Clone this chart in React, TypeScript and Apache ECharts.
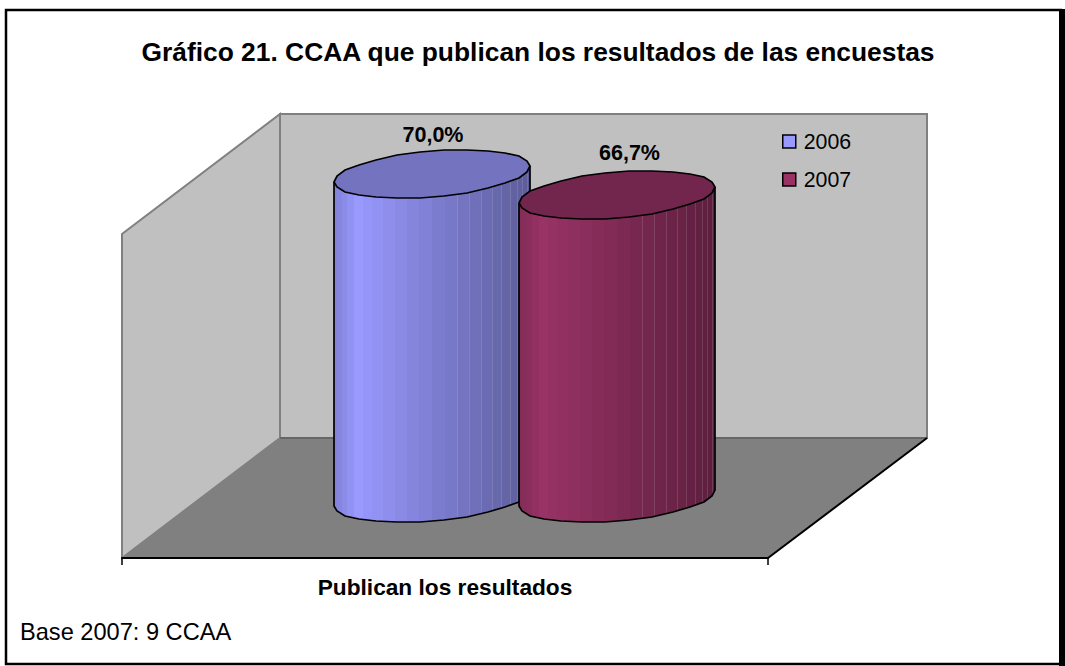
import React, { useEffect, useRef } from "react";
import * as echarts from "echarts";

const TITLE = "Gráfico 21. CCAA que publican los resultados de las encuestas";
const NOTE = "Base 2007: 9 CCAA";
const categories = ["Publican los resultados"];
const years = ["2006", "2007"];
const values2006 = [70.0];
const values2007 = [66.7];
const baseRgb = [[153, 153, 255], [153, 51, 102]];
const fmt = (v: number) => v.toFixed(1).replace(".", ",") + "%";

const FONT = "'Liberation Sans', Arial, sans-serif";
const AXIS_MIN = 10;
const AXIS_MAX = 70;
// oblique projection of the chart box
const DEPTH_X = 158;
const DEPTH_Y = 120;
const L = 122, R = 768, B = 558, WALL_TOP = 114;

const RX = 92.6;
const RD = 40;
const DX = 0.797, DY = 0.606;
const OUTLINE_FACETS = 26;
const STRIPS = 24;
const T0 = Math.atan2(RD * DX, RX);

function ell(cx: number, cy: number, t: number): [number, number] {
  return [cx + RX * Math.cos(t) + RD * DX * Math.sin(t), cy - RD * DY * Math.sin(t)];
}
function shade(u: number) {
  if (u < 0.12) return 0.84 + (u / 0.12) * 0.16;
  return 1 - ((u - 0.12) / 0.88) * 0.4;
}
function mul(rgb: number[], k: number) {
  return `rgb(${rgb.map((c) => Math.round(c * k)).join(",")})`;
}
function yOn(pts: number[][], x: number) {
  for (let i = 0; i < pts.length - 1; i++) {
    const a = pts[i], b = pts[i + 1];
    if (x <= b[0]) {
      const w = b[0] - a[0];
      return w === 0 ? a[1] : a[1] + ((x - a[0]) / w) * (b[1] - a[1]);
    }
  }
  return pts[pts.length - 1][1];
}

function cylinder(seriesIndex: number, labelDx: number, labelDy: number, offset: number) {
  return (params: any, api: any) => {
    const top = api.coord([api.value(0), api.value(1)]);
    const base = api.coord([api.value(0), AXIS_MIN]);
    const cx = Math.round(base[0] + DEPTH_X / 2 + 0.25 + offset);
    const cyBase = Math.round(base[1] - 60);
    const cyTop = Math.round(top[1]);
    const rgb = baseRgb[seriesIndex];
    const children: any[] = [];
    const round = (p: [number, number]) => [Math.round(p[0]), Math.round(p[1])];
    const halfW = Math.hypot(RX, RD * DX);

    // faceted front edge of the base, left to right
    const m = OUTLINE_FACETS / 2;
    const frontBase: number[][] = [];
    for (let i = 0; i <= m; i++) frontBase.push(round(ell(cx, cyBase, T0 - Math.PI + (i / m) * Math.PI)));
    const lift = cyBase - cyTop;

    // vertical shaded strips
    const xs: number[] = [];
    for (let i = 0; i <= STRIPS; i++) {
      xs.push(Math.round(cx - halfW * Math.cos((i / STRIPS) * Math.PI)));
    }
    for (let i = 0; i < STRIPS; i++) {
      const a = xs[i], b = xs[i + 1];
      if (b <= a) continue;
      const u = ((a + b) / 2 - (cx - halfW)) / (2 * halfW);
      const ya = yOn(frontBase, a), yb = yOn(frontBase, b);
      children.push({
        type: "polygon",
        shape: { points: [[a, ya - lift], [b, yb - lift], [b, yb], [a, ya]] },
        style: { fill: mul(rgb, shade(u)), stroke: null },
      });
      if (a > cx + 20) {
        children.push({
          type: "line",
          shape: { x1: a + 0.5, y1: ya - lift, x2: a + 0.5, y2: ya },
          style: { stroke: "rgba(255,255,255,0.13)", lineWidth: 1 },
        });
      }
    }
    const outline = [
      [frontBase[0][0], frontBase[0][1] - lift],
      ...frontBase,
      [frontBase[m][0], frontBase[m][1] - lift],
    ];
    children.push({
      type: "polyline",
      shape: { points: outline },
      style: { fill: null, stroke: "#000", lineWidth: 1.7 },
    });
    const topPts: number[][] = [];
    for (let i = 0; i < OUTLINE_FACETS; i++) {
      topPts.push(round(ell(cx, cyTop, T0 + (i / OUTLINE_FACETS) * 2 * Math.PI)));
    }
    children.push({
      type: "polygon",
      shape: { points: topPts },
      style: { fill: mul(rgb, 0.75), stroke: "#000", lineWidth: 1.7 },
    });
    children.push({
      type: "text",
      style: {
        text: fmt(api.value(1)),
        x: cx + labelDx,
        y: cyTop - labelDy,
        align: "center",
        verticalAlign: "middle",
        fill: "#000",
        font: `bold 21.5px ${FONT}`,
      },
    });
    return { type: "group", children };
  };
}

export default function App() {
  const ref = useRef<HTMLDivElement>(null);
  useEffect(() => {
    document.body.style.margin = "0";
    document.body.style.background = "#fff";
    const chart = echarts.init(ref.current!, null, { renderer: "svg" });
    const backX = L + DEPTH_X, backB = B - DEPTH_Y;
    chart.setOption({
      animation: false,
      backgroundColor: "#fff",
      title: {
        text: TITLE,
        left: 533,
        top: 34,
        textAlign: "center",
        textStyle: { fontFamily: FONT, fontWeight: "bold", fontSize: 26.36, color: "#000" },
      },
      legend: {
        orient: "vertical",
        left: 782,
        top: 131,
        padding: 0,
        itemWidth: 13,
        itemHeight: 13,
        itemGap: 17,
        icon: "rect",
        data: years.map((y, i) => ({
          name: y,
          itemStyle: { color: mul(baseRgb[i], 1), borderColor: "#000", borderWidth: 1.5 },
        })),
        textStyle: { fontFamily: FONT, fontSize: 21.3, color: "#000", padding: [0, 0, 0, 3] },
        selectedMode: false,
      },
      grid: { left: L, width: R - L, top: 174, height: B - 174 },
      xAxis: {
        type: "category",
        data: categories,
        z: 3,
        axisLine: { lineStyle: { color: "#000", width: 2 } },
        axisTick: { show: true, length: 7, lineStyle: { color: "#000", width: 1.5 } },
        axisLabel: {
          fontFamily: FONT,
          fontWeight: "bold",
          fontSize: 22.7,
          color: "#000",
          margin: 17,
        },
      },
      yAxis: { type: "value", min: AXIS_MIN, max: AXIS_MAX, show: false },
      graphic: [
        {
          type: "polygon",
          silent: true,
          shape: { points: [[L, B], [L, B - DEPTH_Y - 204], [backX, WALL_TOP], [backX, backB]] },
          style: { fill: "#C0C0C0", stroke: "#808080", lineWidth: 2 },
        },
        {
          type: "polygon",
          silent: true,
          shape: { points: [[backX, WALL_TOP], [R + DEPTH_X + 1, WALL_TOP], [R + DEPTH_X + 1, backB], [backX, backB]] },
          style: { fill: "#C0C0C0", stroke: "#808080", lineWidth: 2 },
        },
        {
          type: "polygon",
          silent: true,
          shape: { points: [[L, B], [backX, backB], [R + DEPTH_X + 1, backB], [R, B]] },
          style: { fill: "#808080", stroke: "#808080", lineWidth: 1 },
        },
        {
          type: "line",
          silent: true,
          shape: { x1: backX, y1: backB, x2: R + DEPTH_X + 1, y2: backB },
          style: { stroke: "#666", lineWidth: 2 },
        },
        {
          type: "line",
          silent: true,
          shape: { x1: R, y1: B, x2: R + DEPTH_X + 1, y2: backB },
          style: { stroke: "#000", lineWidth: 2 },
        },
        {
          type: "rect",
          silent: true,
          shape: { x: 6, y: 10, width: 1055, height: 654 },
          style: { fill: null, stroke: "#000", lineWidth: 2.5 },
        },
        {
          type: "rect",
          silent: true,
          shape: { x: 1059, y: 9, width: 6, height: 657 },
          style: { fill: "#000", stroke: null },
        },
        {
          type: "text",
          silent: true,
          style: { text: NOTE, x: 20, y: 632, verticalAlign: "middle", fill: "#000", font: `23.6px ${FONT}` },
        },
      ],
      series: [
        {
          type: "custom",
          name: years[0],
          data: values2006.map((v, i) => [i, v]),
          encode: { x: 0, y: 1 },
          itemStyle: { color: mul(baseRgb[0], 1) },
          renderItem: cylinder(0, 1, 39, -92.25),
          silent: true,
          clip: false,
        },
        {
          type: "custom",
          name: years[1],
          data: values2007.map((v, i) => [i, v]),
          encode: { x: 0, y: 1 },
          itemStyle: { color: mul(baseRgb[1], 1) },
          renderItem: cylinder(1, 12.5, 42, 92.25),
          silent: true,
          clip: false,
        },
      ],
    });
    return () => chart.dispose();
  }, []);
  return <div ref={ref} style={{ width: 1065, height: 666 }} />;
}
